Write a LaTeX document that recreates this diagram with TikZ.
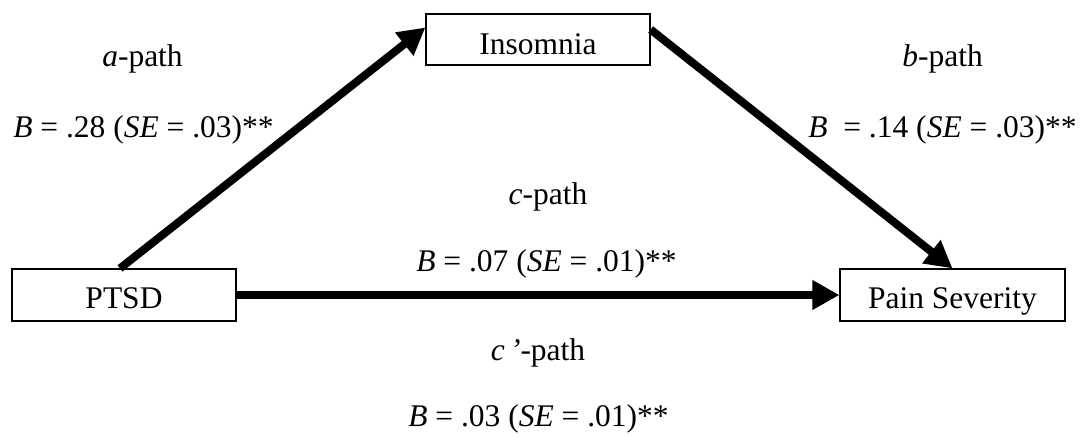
\documentclass[tikz,border=0pt]{standalone}
\usepackage{fontspec}
\setmainfont{Liberation Serif}
\usetikzlibrary{arrows.meta}
\begin{document}
\begin{tikzpicture}[x=1pt,y=-1pt,
  every node/.style={font=\fontsize{31.5}{36}\selectfont},
  varbox/.style={draw, line width=1.2pt, inner sep=0pt, minimum height=52pt, text height=26pt, text depth=0pt},
  pathlbl/.style={anchor=base, inner sep=0pt},
  patharrow/.style={line width=8pt, -{Triangle[length=27pt,width=28pt]}}]
\useasboundingbox (0,0) rectangle (1086,438);
\node[varbox, minimum width=224pt] (ptsd) at (124,295) {PTSD};
\node[varbox, minimum width=224pt, minimum height=51pt, text height=31pt] (ins) at (538,39.5) {Insomnia};
\node[varbox, minimum width=225pt] (pain) at (952.5,295) {Pain Severity};
\node[pathlbl] (al) at (142.5,67) {\textit{a}-path};
\node[pathlbl] (av) at (143.5,138) {\textit{B} = .28 (\textit{SE} = .03)**};
\node[pathlbl] (bl) at (942.5,67) {\textit{b}-path};
\node[pathlbl] (bv) at (942.5,138) {\textit{B}\ \ = .14 (\textit{SE} = .03)**};
\node[pathlbl] (cl) at (548,205) {\textit{c}-path};
\node[pathlbl] (cv) at (546.5,272) {\textit{B} = .07 (\textit{SE} = .01)**};
\node[pathlbl] (dl) at (538,360) {\textit{c\,’}-path};
\node[pathlbl] (dv) at (538.5,426) {\textit{B} = .03 (\textit{SE} = .01)**};
\draw[patharrow] ([xshift=-4pt]ptsd.north) -- ([yshift=12pt]ins.west);
\draw[patharrow] ([yshift=10pt]ins.east) -- (pain.north);
\draw[patharrow] (ptsd.east) -- (pain.west);
\end{tikzpicture}
\end{document}
